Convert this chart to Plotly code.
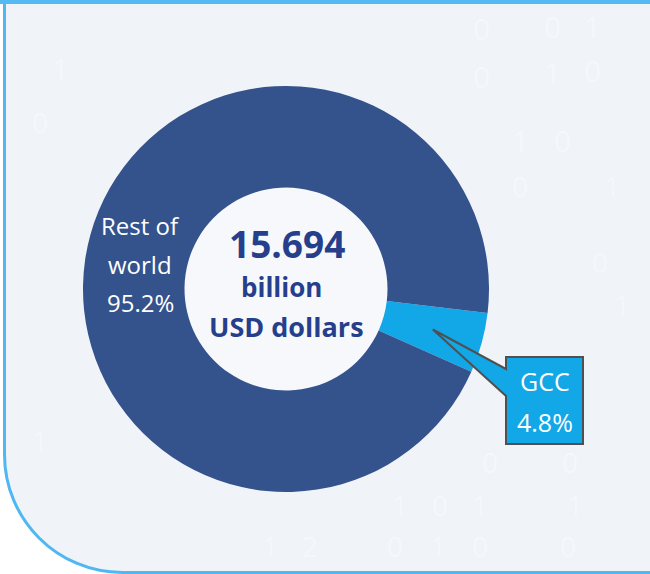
import math
import plotly.graph_objects as go

# Share of the total, in percent
labels = ["GCC", "Rest of world"]
values = [4.8, 95.2]
total_value = "15.694"
total_units = ["billion", "USD dollars"]

W, H = 650, 574
CX, CY, R = 286, 289, 203          # donut centre / outer radius (px)
HOLE = 0.5
ROTATION = 96.8                     # start angle of the first slice, clockwise from 12 o'clock

DARK = "#34528c"
LIGHT = "#12a7e7"
NAVY = "#263f8c"
CARD = "#f0f3f8"
FONT = "Open Sans"

fig = go.Figure()

# Card background with rounded bottom-left corner
rc = 118
k = 0.5523 * rc
card = (f"M 4.5,-10 L 4.5,{572.5 - rc} "
        f"C 4.5,{572.5 - rc + k} {4.5 + rc - k},572.5 {4.5 + rc},572.5 "
        f"L {W + 10},572.5 L {W + 10},-10 Z")
shapes = [dict(type="path", path=card, xref="x", yref="y",
               fillcolor=CARD, line=dict(color="#4fb7f1", width=3), layer="below"),
          dict(type="line", x0=0, x1=W, y0=2, y1=2, xref="x", yref="y",
               line=dict(color="#56baf2", width=4), layer="below")]

# Soft white disc behind the hole of the donut
shapes.append(dict(type="circle", xref="x", yref="y", layer="below",
                   x0=CX - R * HOLE, x1=CX + R * HOLE, y0=CY - R * HOLE, y1=CY + R * HOLE,
                   fillcolor="#f6f8fb", line=dict(width=0)))

fig.add_trace(go.Pie(
    labels=labels, values=values, sort=False, direction="clockwise",
    rotation=ROTATION, hole=HOLE, textinfo="none", hoverinfo="label+percent",
    marker=dict(colors=[LIGHT, DARK], line=dict(width=0)),
    domain=dict(x=[(CX - R) / W, (CX + R) / W],
                y=[(H - CY - R) / H, (H - CY + R) / H]),
    showlegend=False,
))

# Callout for the small slice: wedge points at the middle of the ring
frac = values[0] / sum(values)
mid = math.radians(ROTATION + 360 * frac / 2)
rm = R * (1 + HOLE) / 2
vx, vy = CX + rm * math.sin(mid), CY - rm * math.cos(mid)
bx0, by0, bx1, by1 = 506, 357, 583, 444
callout = (f"M {bx0},{by0} L {bx1},{by0} L {bx1},{by1} L {bx0},{by1} "
           f"L {bx0},396 L {vx:.1f},{vy:.1f} L {bx0},369 Z")
shapes.append(dict(type="path", path=callout, xref="x", yref="y",
                   fillcolor=LIGHT, line=dict(color="#505050", width=2)))

annotations = []

# Faint ticker digits printed on the card background
ghost = "rgba(255,255,255,0.38)"
for txt, x, y, size in [
    ("0", 481, 28, 30), ("0", 552, 26, 30), ("1", 592, 26, 30),
    ("0", 481, 76, 30), ("1", 552, 72, 30), ("0", 592, 70, 30),
    ("1", 520, 140, 30), ("0", 562, 140, 30),
    ("0", 520, 186, 28), ("1", 612, 186, 28),
    ("0", 600, 262, 28), ("1", 622, 304, 28),
    ("0", 490, 462, 28), ("0", 570, 462, 28),
    ("1", 400, 505, 28), ("0", 440, 505, 28), ("1", 480, 505, 28), ("1", 575, 505, 28),
    ("1", 270, 546, 28), ("2", 310, 546, 28), ("0", 395, 546, 28),
    ("1", 438, 546, 28), ("0", 480, 546, 28), ("0", 568, 546, 28),
    ("1", 40, 440, 28), ("0", 40, 122, 28), ("1", 60, 68, 30),
]:
    annotations.append(dict(text=txt, x=x, y=y, xref="x", yref="y", showarrow=False,
                            font=dict(family=FONT, size=size, color=ghost)))

def label(text, x, y, size, color, bold=False):
    annotations.append(dict(
        text=f"<b>{text}</b>" if bold else text, x=x, y=y, xref="x", yref="y",
        showarrow=False, xanchor="center", yanchor="middle",
        font=dict(family=FONT, size=size, color=color)))

# Centre total
label(total_value, CX + 1, 243, 37, NAVY, bold=True)
label(total_units[0], CX - 5, 287, 26, NAVY, bold=True)
label(total_units[1], CX, 326, 27, NAVY, bold=True)

# Large slice label
big_pct = f"{values[1]:.1f}%"
label("Rest of", 140, 225, 24, "white")
label("world", 140, 264, 24, "white")
label(big_pct, 140, 302, 24, "white")

# Small slice label inside the callout box
label(labels[0], (bx0 + bx1) / 2, 381, 25, "white")
label(f"{values[0]:.1f}%", (bx0 + bx1) / 2, 422, 25, "white")

fig.update_layout(
    width=W, height=H, margin=dict(l=0, r=0, t=0, b=0),
    paper_bgcolor="white", plot_bgcolor="rgba(0,0,0,0)",
    xaxis=dict(range=[0, W], visible=False, fixedrange=True),
    yaxis=dict(range=[H, 0], visible=False, fixedrange=True),
    shapes=shapes, annotations=annotations,
)

fig.write_html("out.html")
